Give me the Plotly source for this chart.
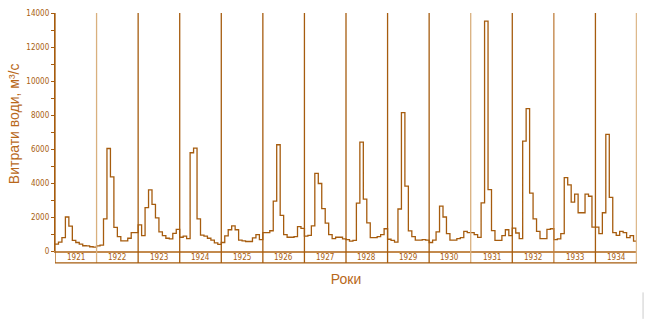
import plotly.graph_objects as go

years = [1921, 1922, 1923, 1924, 1925, 1926, 1927, 1928, 1929, 1930, 1931, 1932, 1933, 1934]
q1921 = [400, 520, 790, 2000, 1460, 630, 500, 400, 310, 300, 250, 230]
q1922 = [300, 350, 1890, 6030, 4360, 1390, 850, 600, 600, 750, 1080, 1080]
q1923 = [1540, 910, 2550, 3590, 2740, 1950, 1120, 910, 750, 710, 1040, 1270]
q1924 = [810, 870, 730, 5780, 6050, 1890, 930, 870, 750, 640, 480, 390]
q1925 = [500, 890, 1250, 1480, 1250, 640, 600, 560, 560, 770, 960, 675]
q1926 = [1080, 1080, 1190, 2930, 6250, 2100, 960, 810, 810, 850, 1430, 1330]
q1927 = [870, 925, 1480, 4570, 3970, 2490, 1640, 960, 730, 810, 810, 710]
q1928 = [675, 580, 620, 2815, 6400, 3050, 1660, 790, 790, 850, 960, 1310]
q1929 = [690, 620, 520, 2470, 8140, 3820, 1180, 850, 640, 640, 675, 640]
q1930 = [500, 640, 1120, 2640, 2000, 1020, 640, 640, 730, 790, 1160, 1080]
q1931 = [1080, 960, 800, 2830, 13520, 3610, 1200, 620, 620, 900, 1250, 900]
q1932 = [1350, 1060, 730, 6460, 8370, 3410, 1890, 1160, 730, 730, 1270, 1310]
q1933 = [675, 710, 1020, 4320, 3890, 2870, 3350, 2250, 2250, 3350, 3220, 1410]
q1934 = [1410, 1020, 2250, 6860, 3160, 1080, 925, 1160, 1080, 790, 900, 580]

series = [q1921, q1922, q1923, q1924, q1925, q1926, q1927, q1928, q1929,
          q1930, q1931, q1932, q1933, q1934]

y_ticks = [0, 2000, 4000, 6000, 8000, 10000, 12000, 14000]

DARK = "#A65C0E"
LIGHT = "#D9B07E"
TEXT = "#A8600F"
NARROW = "Liberation Sans Narrow, DejaVu Sans Condensed, Liberation Sans"

xs, ys = [], []
for i, vals in enumerate(series):
    for m, v in enumerate(vals):
        xs.append(i * 12 + m)
        ys.append(v)
xs.append(len(series) * 12)
ys.append(series[-1][-1])

fig = go.Figure()
fig.add_trace(go.Scatter(x=xs, y=ys, mode="lines", line=dict(shape="hv", color=DARK, width=1.3),
                         hoverinfo="skip", showlegend=False))

boundary_colors = [DARK, LIGHT, DARK, DARK, DARK, DARK, DARK, DARK, DARK, DARK,
                   LIGHT, DARK, "#C08040", DARK, "#DDB98C"]
shapes = []
for k in range(len(years) + 1):
    w = 2.5 if k == len(years) else 1.3
    shapes.append(dict(type="line", xref="x", yref="paper", x0=k * 12, x1=k * 12,
                       y0=-0.05, y1=1, line=dict(color=boundary_colors[k], width=w), layer="above"))
# bottom of year band
shapes.append(dict(type="line", xref="x", yref="paper", x0=0, x1=len(years) * 12,
                   y0=-0.05, y1=-0.05, line=dict(color=DARK, width=1.3)))
# faint mark at right bottom
shapes.append(dict(type="line", xref="paper", yref="paper", x0=1.0104, x1=1.0104,
                   y0=-0.174, y1=-0.285, line=dict(color="#cccccc", width=1)))

annotations = []
for i, yr in enumerate(years):
    annotations.append(dict(x=i * 12 + 6, y=-0.026, xref="x", yref="paper", text=str(yr),
                            showarrow=False, font=dict(size=8, color=TEXT, family=NARROW),
                            yanchor="middle"))
annotations.append(dict(x=-0.0704, y=0.533, xref="paper", yref="paper",
                        text="Витрати води, м³/с", textangle=-90, showarrow=False,
                        xanchor="center", yanchor="middle",
                        font=dict(size=14, color="#B8681A", family="Liberation Sans")))

fig.update_layout(
    width=651, height=324,
    margin=dict(l=55, r=14, t=9, b=73),
    paper_bgcolor="white", plot_bgcolor="white",
    shapes=shapes, annotations=annotations,
    xaxis=dict(range=[0, len(years) * 12], showticklabels=False, ticks="", showgrid=False,
               zeroline=False, showline=True, linecolor="#C38A4E", linewidth=2,
               title=dict(text="Роки", font=dict(size=14, color="#B8681A", family="Liberation Sans"),
                          standoff=22)),
    yaxis=dict(range=[0, 14000], tickvals=y_ticks, ticktext=[str(t) for t in y_ticks],
               ticks="outside", ticklen=3, tickcolor=DARK, showgrid=False, zeroline=False,
               showline=True, linecolor=DARK, linewidth=1.3,
               minor=dict(dtick=1000, ticks="outside", ticklen=3, tickcolor=DARK),
               tickfont=dict(size=8, color=TEXT, family=NARROW)),
)

fig.write_html("out.html")
